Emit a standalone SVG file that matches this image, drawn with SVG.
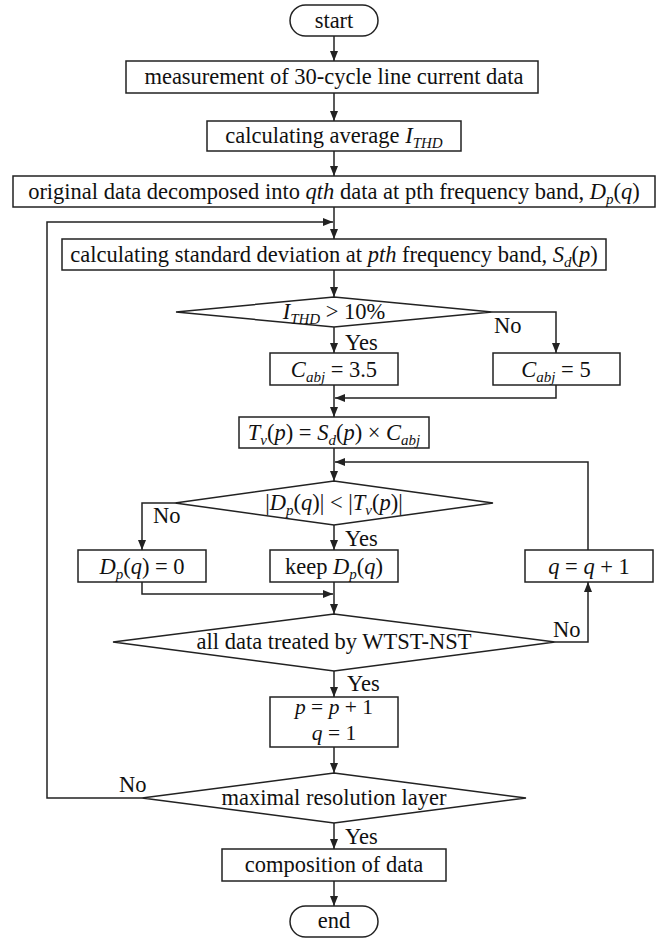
<svg xmlns="http://www.w3.org/2000/svg" width="670" height="941" viewBox="0 0 670 941">
<style>
.b{fill:#fff;stroke:#222;stroke-width:1.5}
.c{fill:none;stroke:#222;stroke-width:1.5}
.a{marker-end:url(#ah)}
text{font-family:"Liberation Serif","Times New Roman",serif;font-size:22.5px;fill:#111}
.m{text-anchor:middle}
.i{font-style:italic}
.s{font-size:15px;font-style:italic}
</style>
<defs>
<marker id="ah" markerUnits="userSpaceOnUse" markerWidth="10" markerHeight="8" refX="10" refY="4" orient="auto">
<path d="M0,0 L10,4 L0,8 z" fill="#222"/>
</marker>
</defs>
<rect width="670" height="941" fill="#fff"/>
<g id="connectors">
<path class="c a" d="M334,36 V61"/>
<path class="c a" d="M334,93 V121"/>
<path class="c a" d="M334,151 V176"/>
<path class="c a" d="M334,207 V239"/>
<path class="c a" d="M142,798 H47 V222 H333"/>
<path class="c a" d="M334,270 V297"/>
<path class="c a" d="M334,327 V353"/>
<path class="c a" d="M492,312 H556 V353"/>
<path class="c a" d="M334,385 V417"/>
<path class="c a" d="M556,385 V398 H335"/>
<path class="c a" d="M334,448 V481"/>
<path class="c a" d="M588,550 V462 H335"/>
<path class="c a" d="M175,503 H142 V550"/>
<path class="c a" d="M334,525 V550"/>
<path class="c a" d="M142,582 V594 H333"/>
<path class="c a" d="M334,582 V614"/>
<path class="c a" d="M555,642 H588 V582"/>
<path class="c a" d="M334,671 V697"/>
<path class="c a" d="M334,747 V773"/>
<path class="c a" d="M334,823 V849"/>
<path class="c a" d="M334,881 V906"/>
</g>
<g id="labels">
<text x="494" y="333">No</text>
<text x="345" y="350">Yes</text>
<text x="153" y="523">No</text>
<text x="345" y="546">Yes</text>
<text x="553" y="637">No</text>
<text x="347" y="691">Yes</text>
<text x="119" y="792">No</text>
<text x="345" y="844">Yes</text>
</g>
<g id="start">
<rect class="b" x="290" y="5" width="88" height="31" rx="15.5"/>
<text class="m" x="334" y="28">start</text>
</g>
<g id="measure">
<rect class="b" x="126" y="61" width="412" height="32"/>
<text class="m" x="334" y="84">measurement of 30-cycle line current data</text>
</g>
<g id="avg">
<rect class="b" x="207" y="121" width="254" height="30"/>
<text class="m" x="334" y="143">calculating average <tspan class="i">I</tspan><tspan class="s" dy="5">THD</tspan></text>
</g>
<g id="decompose">
<rect class="b" x="13" y="176" width="642" height="31"/>
<text class="m" x="334" y="199">original data decomposed into <tspan class="i">qth</tspan> data at pth frequency band, <tspan class="i">D</tspan><tspan class="s" dy="5">p</tspan><tspan dy="-5">(</tspan><tspan class="i">q</tspan>)</text>
</g>
<g id="stddev">
<rect class="b" x="62" y="239" width="544" height="31"/>
<text class="m" x="334" y="262">calculating standard deviation at <tspan class="i">pth</tspan> frequency band, <tspan class="i">S</tspan><tspan class="s" dy="5">d</tspan><tspan dy="-5">(</tspan><tspan class="i">p</tspan>)</text>
</g>
<g id="cond1">
<path class="b" d="M334,297 L492,312 L334,327 L176,312 Z"/>
<text class="m" x="334" y="319"><tspan class="i">I</tspan><tspan class="s" dy="5">THD</tspan><tspan dy="-5"> &gt; 10%</tspan></text>
</g>
<g id="c35">
<rect class="b" x="270" y="353" width="128" height="32"/>
<text class="m" x="334" y="377"><tspan class="i">C</tspan><tspan class="s" dy="5">abj</tspan><tspan dy="-5"> = 3.5</tspan></text>
</g>
<g id="c5">
<rect class="b" x="493" y="353" width="127" height="32"/>
<text class="m" x="556" y="377"><tspan class="i">C</tspan><tspan class="s" dy="5">abj</tspan><tspan dy="-5"> = 5</tspan></text>
</g>
<g id="tv">
<rect class="b" x="239" y="417" width="190" height="31"/>
<text class="m" x="334" y="440"><tspan class="i">T</tspan><tspan class="s" dy="5">v</tspan><tspan dy="-5">(</tspan><tspan class="i">p</tspan>) = <tspan class="i">S</tspan><tspan class="s" dy="5">d</tspan><tspan dy="-5">(</tspan><tspan class="i">p</tspan>) × <tspan class="i">C</tspan><tspan class="s" dy="5">abj</tspan></text>
</g>
<g id="cond2">
<path class="b" d="M334,481 L493,503 L334,525 L175,503 Z"/>
<text class="m" x="334" y="510">|<tspan class="i">D</tspan><tspan class="s" dy="5">p</tspan><tspan dy="-5">(</tspan><tspan class="i">q</tspan>)| &lt; |<tspan class="i">T</tspan><tspan class="s" dy="5">v</tspan><tspan dy="-5">(</tspan><tspan class="i">p</tspan>)|</text>
</g>
<g id="zero">
<rect class="b" x="78" y="550" width="128" height="32"/>
<text class="m" x="142" y="574"><tspan class="i">D</tspan><tspan class="s" dy="5">p</tspan><tspan dy="-5">(</tspan><tspan class="i">q</tspan>) = 0</text>
</g>
<g id="keep">
<rect class="b" x="270" y="550" width="128" height="32"/>
<text class="m" x="334" y="574">keep <tspan class="i">D</tspan><tspan class="s" dy="5">p</tspan><tspan dy="-5">(</tspan><tspan class="i">q</tspan>)</text>
</g>
<g id="qinc">
<rect class="b" x="525" y="550" width="128" height="32"/>
<text class="m" x="589" y="574"><tspan class="i">q</tspan> = <tspan class="i">q</tspan> + 1</text>
</g>
<g id="cond3">
<path class="b" d="M334,614 L555,642 L334,671 L113,642 Z"/>
<text class="m" x="334" y="649">all data treated by WTST-NST</text>
</g>
<g id="pinc">
<rect class="b" x="270" y="697" width="128" height="50"/>
<text class="m" x="334" y="714" style="font-size:21.5px"><tspan class="i">p</tspan> = <tspan class="i">p</tspan> + 1</text>
<text class="m" x="334" y="740" style="font-size:21.5px"><tspan class="i">q</tspan> = 1</text>
</g>
<g id="cond4">
<path class="b" d="M334,773 L526,798 L334,823 L142,798 Z"/>
<text class="m" x="334" y="805">maximal resolution layer</text>
</g>
<g id="compose">
<rect class="b" x="222" y="849" width="224" height="32"/>
<text class="m" x="334" y="872">composition of data</text>
</g>
<g id="end">
<rect class="b" x="290" y="906" width="88" height="31" rx="15.5"/>
<text class="m" x="334" y="928">end</text>
</g>
</svg>
